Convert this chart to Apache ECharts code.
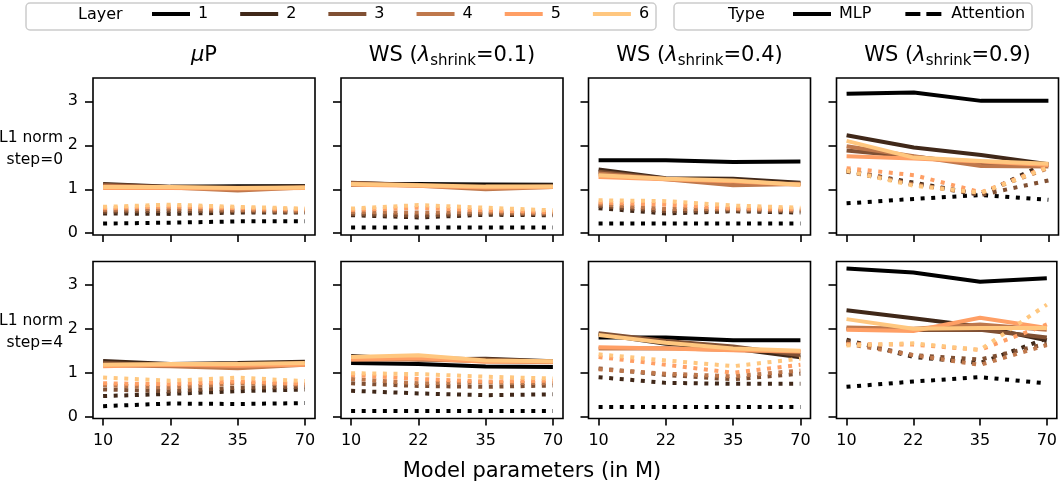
<!DOCTYPE html>
<html><head><meta charset="utf-8">
<script src="https://cdn.jsdelivr.net/npm/echarts@6/dist/echarts.min.js"></script>
<style>html,body{margin:0;padding:0;background:#fff}#c{width:1060px;height:488px}</style>
</head><body><div id="c"></div>
<script>
// ---------- data ----------
const xLabels = ['10', '22', '35', '70'];
const yTickValues = [0, 1, 2, 3];
const layerNames = ['1', '2', '3', '4', '5', '6'];
const layerColors = ['#000000', '#402819', '#805033', '#bf784c', '#ff9f65', '#ffc77f'];
const lambdaValues = [null, '0.1', '0.4', '0.9'];
const rowLabels = ['L1 norm\nstep=0', 'L1 norm\nstep=4'];

// MLP / Attention values per layer (rows = layer 1..6, cols = 10,22,35,70 M)
const mlp_muP_s0 = [
  [1.05, 1.05, 1.07, 1.07], [1.12, 1.06, 1.05, 1.07], [1.10, 1.05, 1.00, 1.05],
  [1.08, 1.04, 0.97, 1.04], [1.03, 1.03, 1.02, 1.03], [1.05, 1.05, 1.03, 1.04]];
const att_muP_s0 = [
  [0.22, 0.24, 0.27, 0.27], [0.45, 0.44, 0.47, 0.47], [0.49, 0.51, 0.50, 0.48],
  [0.53, 0.56, 0.53, 0.51], [0.57, 0.61, 0.57, 0.54], [0.60, 0.65, 0.60, 0.56]];
const mlp_ws01_s0 = [
  [1.10, 1.12, 1.11, 1.10], [1.14, 1.10, 1.08, 1.09], [1.15, 1.09, 1.03, 1.07],
  [1.13, 1.08, 1.00, 1.05], [1.10, 1.08, 1.04, 1.05], [1.12, 1.09, 1.06, 1.06]];
const att_ws01_s0 = [
  [0.13, 0.13, 0.13, 0.13], [0.41, 0.36, 0.42, 0.41], [0.44, 0.40, 0.45, 0.43],
  [0.48, 0.47, 0.48, 0.45], [0.53, 0.58, 0.52, 0.48], [0.56, 0.64, 0.58, 0.52]];
const mlp_ws04_s0 = [
  [1.66, 1.66, 1.62, 1.63], [1.45, 1.25, 1.24, 1.15], [1.40, 1.24, 1.12, 1.13],
  [1.36, 1.23, 1.09, 1.12], [1.28, 1.23, 1.18, 1.10], [1.32, 1.24, 1.20, 1.10]];
const att_ws04_s0 = [
  [0.22, 0.22, 0.22, 0.22], [0.57, 0.45, 0.50, 0.47], [0.62, 0.50, 0.52, 0.50],
  [0.66, 0.55, 0.55, 0.52], [0.70, 0.65, 0.57, 0.55], [0.75, 0.73, 0.63, 0.58]];
const mlp_ws09_s0 = [
  [3.17, 3.20, 3.01, 3.01], [2.23, 1.95, 1.78, 1.57], [1.88, 1.74, 1.58, 1.55],
  [1.98, 1.75, 1.53, 1.52], [1.75, 1.70, 1.63, 1.55], [2.10, 1.72, 1.64, 1.58]];
const att_ws09_s0 = [
  [0.68, 0.78, 0.87, 0.76], [1.42, 1.15, 0.88, 1.62], [1.40, 1.12, 0.87, 1.20],
  [1.45, 1.10, 0.92, 1.48], [1.48, 1.32, 0.93, 1.52], [1.42, 1.08, 0.92, 1.50]];
const mlp_muP_s4 = [
  [1.20, 1.18, 1.20, 1.22], [1.27, 1.20, 1.22, 1.25], [1.22, 1.17, 1.12, 1.20],
  [1.17, 1.15, 1.10, 1.18], [1.15, 1.18, 1.16, 1.18], [1.18, 1.20, 1.20, 1.22]];
const att_muP_s4 = [
  [0.24, 0.30, 0.29, 0.31], [0.47, 0.52, 0.58, 0.62], [0.62, 0.58, 0.66, 0.68],
  [0.72, 0.66, 0.76, 0.73], [0.76, 0.74, 0.80, 0.75], [0.89, 0.82, 0.89, 0.81]];
const mlp_ws01_s4 = [
  [1.22, 1.20, 1.14, 1.13], [1.38, 1.30, 1.32, 1.26], [1.35, 1.34, 1.30, 1.25],
  [1.30, 1.30, 1.26, 1.24], [1.30, 1.33, 1.25, 1.25], [1.36, 1.40, 1.28, 1.26]];
const att_ws01_s4 = [
  [0.13, 0.13, 0.13, 0.13], [0.59, 0.53, 0.49, 0.51], [0.76, 0.70, 0.68, 0.71],
  [0.86, 0.76, 0.78, 0.76], [0.95, 0.86, 0.80, 0.82], [0.99, 0.97, 0.91, 0.87]];
const mlp_ws04_s4 = [
  [1.80, 1.80, 1.74, 1.74], [1.88, 1.66, 1.55, 1.35], [1.90, 1.72, 1.60, 1.40],
  [1.55, 1.56, 1.52, 1.48], [1.58, 1.55, 1.51, 1.49], [1.86, 1.68, 1.55, 1.50]];
const att_ws04_s4 = [
  [0.22, 0.22, 0.22, 0.22], [0.90, 0.77, 0.75, 0.75], [1.10, 0.95, 0.85, 0.98],
  [1.08, 0.98, 0.92, 1.05], [1.36, 1.18, 1.00, 1.18], [1.42, 1.28, 1.15, 1.32]];
const mlp_ws09_s4 = [
  [3.37, 3.28, 3.07, 3.15], [2.42, 2.24, 2.05, 1.74], [2.00, 1.97, 1.98, 1.80],
  [2.03, 2.00, 2.10, 1.98], [1.98, 1.95, 2.25, 2.02], [2.22, 2.00, 2.02, 2.02]];
const att_ws09_s4 = [
  [0.68, 0.80, 0.90, 0.76], [1.75, 1.36, 1.22, 1.78], [1.72, 1.40, 1.30, 1.66],
  [1.66, 1.40, 1.18, 1.63], [1.65, 1.64, 1.52, 2.10], [1.62, 1.67, 1.52, 2.55]];

const panelMlp = [mlp_muP_s0, mlp_ws01_s0, mlp_ws04_s0, mlp_ws09_s0,
                  mlp_muP_s4, mlp_ws01_s4, mlp_ws04_s4, mlp_ws09_s4];
const panelAtt = [att_muP_s0, att_ws01_s0, att_ws04_s0, att_ws09_s0,
                  att_muP_s4, att_ws01_s4, att_ws04_s4, att_ws09_s4];

// ---------- layout ----------
const FONT = '"DejaVu Sans", sans-serif';
const colLeft = [93, 341, 588.5, 836.5];
const rowTop = [78, 261.5];
const gW = 222, gH = 157;

const grids = [], xAxes = [], yAxes = [], series = [];
for (let r = 0; r < 2; r++) {
  for (let c = 0; c < 4; c++) {
    const p = r * 4 + c;
    grids.push({left: colLeft[c], top: rowTop[r], width: gW, height: gH,
      show: true, borderColor: '#000', borderWidth: 1.6, backgroundColor: 'transparent', containLabel: false});
    xAxes.push({type: 'value', gridIndex: p, min: -0.15, max: 3.15,
      axisLine: {show: false, onZero: false}, splitLine: {show: false},
      axisTick: {show: true, customValues: [0, 1, 2, 3], length: 7, lineStyle: {color: '#000', width: 1.6}},
      axisLabel: {show: r === 1, customValues: [0, 1, 2, 3], formatter: v => xLabels[Math.round(v)],
        fontSize: 16, fontFamily: FONT, color: '#000', margin: 14}});
    yAxes.push({type: 'value', gridIndex: p, min: -0.04, max: 3.53,
      axisLine: {show: false, onZero: false}, splitLine: {show: false},
      axisTick: {show: true, customValues: yTickValues, length: 8, lineStyle: {color: '#000', width: 1.6}},
      axisLabel: {show: c === 0, customValues: yTickValues, fontSize: 16, fontFamily: FONT, color: '#000', margin: 15}});
    for (let l = 0; l < 6; l++) {
      series.push({type: 'line', name: layerNames[l], xAxisIndex: p, yAxisIndex: p,
        data: panelMlp[p][l].map((v, i) => [i, v]), symbol: 'none', showSymbol: false,
        color: layerColors[l], lineStyle: {width: 4, color: layerColors[l], cap: 'butt'}, z: 3});
      series.push({type: 'line', name: layerNames[l], xAxisIndex: p, yAxisIndex: p,
        data: panelAtt[p][l].map((v, i) => [i, v]), symbol: 'none', showSymbol: false,
        color: layerColors[l], lineStyle: {width: 4, color: layerColors[l], type: [4, 6.6], cap: 'butt'}, z: 3});
    }
  }
}
series.push({type: 'line', name: 'MLP', data: [], xAxisIndex: 0, yAxisIndex: 0, color: '#000', symbol: 'none'});
series.push({type: 'line', name: 'Attention', data: [], xAxisIndex: 0, yAxisIndex: 0, color: '#000', symbol: 'none'});

const titleRich = {
  n: {fontSize: 21, fontFamily: FONT, color: '#000', lineHeight: 26},
  l: {fontSize: 21, fontFamily: FONT, fontStyle: 'italic', color: '#000', lineHeight: 26},
  s: {fontSize: 15, fontFamily: FONT, color: '#000', lineHeight: 15, verticalAlign: 'bottom'}
};
const graphics = [
  {type: 'rect', shape: {x: 26, y: 3, width: 630, height: 27, r: 4}, style: {fill: '#fff', stroke: '#cccccc', lineWidth: 1.5}, z: 0},
  {type: 'rect', shape: {x: 674, y: 3, width: 358, height: 27, r: 4}, style: {fill: '#fff', stroke: '#cccccc', lineWidth: 1.5}, z: 0},
  {type: 'text', x: 78, y: 14.5, style: {text: 'Layer', font: '16px ' + FONT, fill: '#000', verticalAlign: 'middle', align: 'left'}, z: 1},
  {type: 'text', x: 728, y: 14.5, style: {text: 'Type', font: '16px ' + FONT, fill: '#000', verticalAlign: 'middle', align: 'left'}, z: 1},
  {type: 'text', x: 532, y: 472, style: {text: 'Model parameters (in M)', font: '21px ' + FONT, fill: '#000', verticalAlign: 'middle', align: 'center'}},
];
for (let c = 0; c < 4; c++) {
  const txt = lambdaValues[c] === null ? '{l|μ}{n|P}' : '{n|WS (}{l|λ}{s|shrink}{n|=' + lambdaValues[c] + ')}';
  graphics.push({type: 'text', x: colLeft[c] + gW / 2, y: 56,
    style: {text: txt, rich: titleRich, align: 'center', verticalAlign: 'middle'}});
}
for (let r = 0; r < 2; r++) {
  graphics.push({type: 'text', x: 63, y: rowTop[r] + gH / 2 - 8,
    style: {text: rowLabels[r], font: '15.5px ' + FONT, fill: '#000', align: 'right', verticalAlign: 'middle', lineHeight: 22}});
}

const chart = echarts.init(document.getElementById('c'), null, {renderer: 'canvas'});
chart.setOption({
  animation: false,
  backgroundColor: '#fff',
  grid: grids, xAxis: xAxes, yAxis: yAxes, series: series,
  legend: [
    {data: layerNames, left: 152, top: 6, padding: 0, itemWidth: 38, itemHeight: 4, itemGap: 32,
     icon: 'rect', itemStyle: {borderWidth: 0},
     textStyle: {fontSize: 16, fontFamily: FONT, color: '#000', padding: [0, 0, 0, 3]}, selectedMode: false, z: 5},
    {data: [{name: 'MLP', icon: 'rect'}, {name: 'Attention', icon: 'path://M0,0H15V4H0Z M21,0H36V4H21Z M38,4'}],
     left: 793, top: 6, padding: 0, itemWidth: 38, itemHeight: 4, itemGap: 34, itemStyle: {borderWidth: 0},
     textStyle: {fontSize: 16, fontFamily: FONT, color: '#000', padding: [0, 0, 0, 3]}, selectedMode: false, z: 5}
  ],
  graphic: graphics
});
</script></body></html>
